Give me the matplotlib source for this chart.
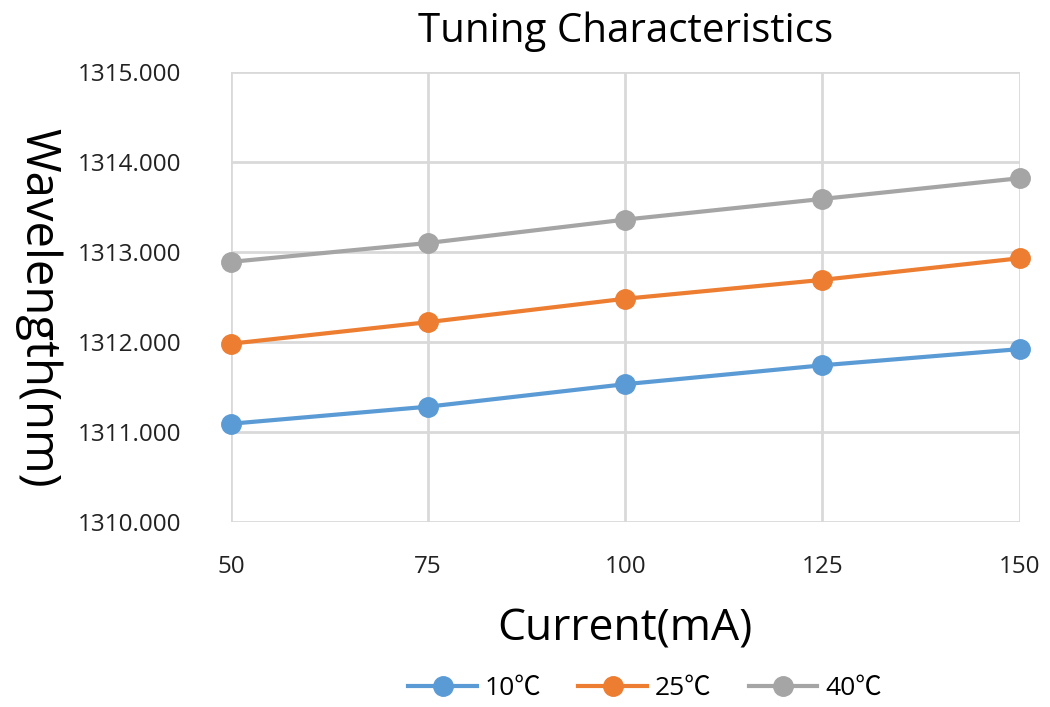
import matplotlib.pyplot as plt

current = [50, 75, 100, 125, 150]
wl_10 = [1311.09, 1311.28, 1311.53, 1311.74, 1311.92]
wl_25 = [1311.98, 1312.22, 1312.48, 1312.69, 1312.93]
wl_40 = [1312.89, 1313.10, 1313.36, 1313.59, 1313.82]
labels = ['10\u2103', '25\u2103', '40\u2103']
colors = ['#5B9BD5', '#ED7D31', '#A5A5A5']

plt.rcParams['font.family'] = ['Open Sans', 'Noto Sans CJK SC', 'DejaVu Sans']

fig = plt.figure(figsize=(10.5, 7.07), dpi=100)
ax = fig.add_axes([0.22, 0.262, 0.751, 0.636])

for ys, lab, c in zip([wl_10, wl_25, wl_40], labels, colors):
    ax.plot(current, ys, color=c, lw=3, marker='o', ms=14, label=lab, clip_on=False, zorder=3)

ax.set_xlim(50, 150)
ax.set_ylim(1310, 1315)
ax.set_xticks(current)
ax.set_yticks([1310, 1311, 1312, 1313, 1314, 1315])
ax.set_yticklabels([f'{v:.3f}' for v in range(1310, 1316)])
ax.grid(True, color='#D9D9D9', lw=2)
ax.set_axisbelow(True)
for s in ax.spines.values():
    s.set_visible(False)
ax.tick_params(length=0, labelsize=17.5, colors='#222222', pad=36)
ax.tick_params(axis='x', pad=24)

ax.set_title('Tuning Characteristics', fontsize=29, pad=22)
ax.set_xlabel('Current(mA)', fontsize=32, labelpad=20)
ax.set_ylabel('Wavelength(nm)', fontsize=34, rotation=270, va='center')
ax.yaxis.set_label_coords(-0.245, 0.475)

ax.legend(loc='upper center', bbox_to_anchor=(0.525, -0.29), ncol=3, frameon=False,
          fontsize=19, handlelength=2.6, columnspacing=1.4, handletextpad=0.3)

fig.savefig('out.png')
